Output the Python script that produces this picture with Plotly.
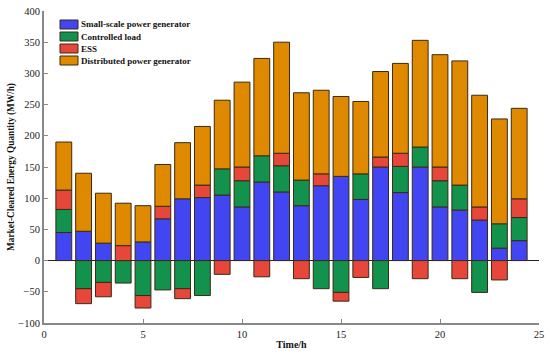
import plotly.graph_objects as go

hours = list(range(1, 25))
small_scale = [45, 47, 28, 0, 30, 67, 99, 101, 105, 86, 126, 110, 88, 120, 135, 98, 150, 109, 150, 86, 81, 65, 20, 32]
controlled_load = [37, -45, -35, -36, -56, -47, -45, -56, 42, 42, 42, 42, 41, -45, -51, 41, -45, 42, 32, 42, 40, -51, 39, 37]
ess = [31, -24, -23, 24, -20, 20, -16, 20, -22, 22, -26, 20, -29, 19, -14, -27, 16, 21, -29, 22, -29, 21, -31, 30]
distributed = [77, 93, 80, 68, 58, 67, 90, 94, 110, 136, 156, 178, 140, 134, 128, 116, 137, 144, 171, 180, 199, 179, 168, 145]

series_names = ["Small-scale power generator", "Controlled load", "ESS", "Distributed power generator"]
series_values = [small_scale, controlled_load, ess, distributed]
series_colors = ["#4146F2", "#12924C", "#E6473A", "#DE8900"]

FONT = "Liberation Serif"
W, H = 550, 356
ML, MR, MT, MB = 44, 11, 11, 33
PW, PH = W - ML - MR, H - MT - MB


def px_x(px):
    return (px - ML) / PW


def px_y(py):
    return (H - MB - py) / PH


fig = go.Figure()
for name, vals, col in zip(series_names, series_values, series_colors):
    fig.add_trace(go.Bar(
        x=hours, y=vals, name=name, width=0.8,
        marker=dict(color=col, line=dict(color="#3a2a14", width=1)),
        showlegend=False,
    ))

# legend drawn as swatches + text (compact, like the reference)
shapes = []
annotations = []
for i, (name, col) in enumerate(zip(series_names, series_colors)):
    cy = 24.5 + 12 * i
    shapes.append(dict(
        type="rect", xref="paper", yref="paper",
        x0=px_x(60), x1=px_x(78), y0=px_y(cy + 4.5), y1=px_y(cy - 4.5),
        fillcolor=col, line=dict(color="#3a2a14", width=1), layer="above",
    ))
    annotations.append(dict(
        xref="paper", yref="paper", x=px_x(79), y=px_y(cy),
        xanchor="left", yanchor="middle", showarrow=False,
        text="<b>" + name + "</b>",
        font=dict(family=FONT, size=9, color="#111"),
    ))

fig.update_layout(
    width=W, height=H,
    barmode="relative",
    plot_bgcolor="white", paper_bgcolor="white",
    margin=dict(l=ML, r=MR, t=MT, b=MB, autoexpand=False),
    font=dict(family=FONT, size=10.5, color="#222"),
    showlegend=False,
    shapes=shapes,
    annotations=annotations,
)
fig.update_xaxes(
    range=[0, 25], tickvals=[0, 5, 10, 15, 20, 25],
    showline=True, linecolor="#888", linewidth=2,
    ticks="inside", ticklen=4, tickcolor="#888",
    showgrid=False, zeroline=False, automargin=False,
    title=dict(text="<b>Time/h</b>", font=dict(family=FONT, size=10, color="#111"), standoff=2),
    tickfont=dict(family=FONT, size=10.5, color="#222"),
)
fig.update_yaxes(
    range=[-100, 400], tickvals=[-100, -50, 0, 50, 100, 150, 200, 250, 300, 350, 400],
    ticktext=["\u2212100", "\u221250", "0", "50", "100", "150", "200", "250", "300", "350", "400"],
    showline=True, linecolor="#888", linewidth=2,
    ticks="inside", ticklen=4, tickcolor="#888",
    showgrid=False, zeroline=True, zerolinecolor="#222", zerolinewidth=1,
    automargin=False,
    title=dict(text="<b>Market-Cleared Energy Quantity (MW/h)</b>", font=dict(family=FONT, size=9.3, color="#111"), standoff=2),
    tickfont=dict(family=FONT, size=10.5, color="#222"),
)

fig.write_html(
    "out.html",
    config={"displayModeBar": False},
    post_script="document.body.style.margin='0';document.body.style.overflow='hidden';",
)
